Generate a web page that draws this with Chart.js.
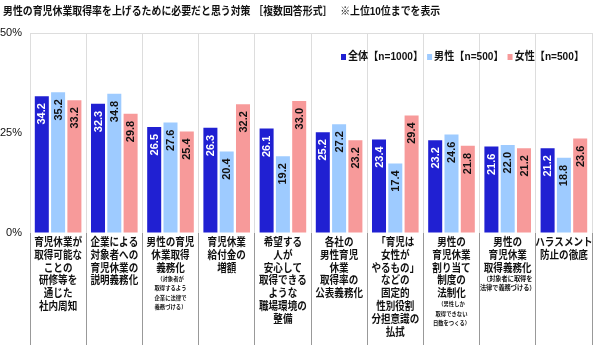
<!DOCTYPE html>
<html>
<head>
<meta charset="utf-8">
<script src="https://cdn.jsdelivr.net/npm/chart.js@4"></script>
<style>
  html, body { margin: 0; padding: 0; background: #fff; }
  #wrap { width: 600px; height: 345px; position: relative; }
</style>
</head>
<body>
<div id="wrap"><canvas id="chart"></canvas></div>
<script>
// 項目（本文の行）と、小さな注記の行
const categories = [
  ['育児休業が', '取得可能な', 'ことの', '研修等を', '通じた', '社内周知'],
  ['企業による', '対象者への', '育児休業の', '説明義務化'],
  ['男性の育児', '休業取得', '義務化'],
  ['育児休業', '給付金の', '増額'],
  ['希望する', '人が', '安心して', '取得できる', 'ような', '職場環境の', '整備'],
  ['各社の', '男性育児', '休業', '取得率の', '公表義務化'],
  ['「育児は', '女性が', 'やるもの」', 'などの', '固定的', '性別役割', '分担意識の', '払拭'],
  ['男性の', '育児休業', '割り当て', '制度の', '法制化'],
  ['男性の', '育児休業', '取得義務化'],
  ['ハラスメント', '防止の徹底']
];
const notes = [
  [],
  [],
  ['（対象者が', '取得するよう', '企業に法律で', '義務づける）'],
  [],
  [],
  [],
  [],
  ['（男性しか', '取得できない', '日数をつくる）'],
  ['（対象者に取得を', '法律で義務づける）'],
  []
];

const titleText = '男性の育児休業取得率を上げるために必要だと思う対策 ［複数回答形式］　 ※上位10位までを表示';
const seriesNames = ['全体【n=1000】', '男性【n=500】', '女性【n=500】'];
const allValues   = [34.2, 32.3, 26.5, 26.3, 26.1, 25.2, 23.4, 23.2, 21.6, 21.2];
const maleValues  = [35.2, 34.8, 27.6, 20.4, 19.2, 27.2, 17.4, 24.6, 22.0, 18.8];
const femaleValues = [33.2, 29.8, 25.4, 32.2, 33.0, 23.2, 29.4, 21.8, 21.2, 23.6];
const yTicks = [0, 25, 50];

const colors = ['#2020d2', '#9ecbff', '#f79a9a'];
const labelColors = ['#ffffff', '#111111', '#111111'];
const FONT = '"Liberation Sans", "Noto Sans CJK JP", sans-serif';

// 横に少し詰めて文字を書く（元図の細い和文フォントに合わせる）
function squeezedText(c, text, x, y, sx) {
  c.save();
  c.translate(x, y);
  c.scale(sx, 1);
  c.fillText(text, 0, 0);
  c.restore();
}

// タイトルと凡例
const header = {
  id: 'header',
  afterDraw(chart) {
    const c = chart.ctx;
    c.save();
    c.fillStyle = '#111';
    c.textBaseline = 'middle';
    c.textAlign = 'left';
    c.font = 'bold 11px ' + FONT;
    squeezedText(c, titleText, 3, 12, 0.9);

    // 凡例（グラフ内の右上）
    const sx = 0.92;
    let x = 341;
    const y = 57;
    seriesNames.forEach((name, i) => {
      c.fillStyle = colors[i];
      c.fillRect(x, y - 3, 5, 6);
      c.fillStyle = '#111';
      squeezedText(c, name, x + 7, y, sx);
      x += 7 + c.measureText(name).width * sx + 4;
    });
    c.restore();
  }
};

// 棒の中に回転した数値
const barLabels = {
  id: 'barLabels',
  afterDatasetsDraw(chart) {
    const c = chart.ctx;
    c.save();
    c.font = 'bold 11px ' + FONT;
    c.textAlign = 'right';
    c.textBaseline = 'middle';
    chart.data.datasets.forEach((ds, i) => {
      chart.getDatasetMeta(i).data.forEach((bar, j) => {
        c.save();
        c.translate(bar.x, bar.y + 7);
        c.rotate(-Math.PI / 2);
        c.fillStyle = labelColors[i];
        c.fillText(ds.data[j].toFixed(1), 0, 0.5);
        c.restore();
      });
    });
    c.restore();
  }
};

// 項目ラベル（複数行＋小さい注記）
const catLabels = {
  id: 'catLabels',
  afterDraw(chart) {
    const c = chart.ctx;
    const x = chart.scales.x;
    const top = chart.chartArea.bottom;
    c.save();
    c.fillStyle = '#111';
    c.textAlign = 'center';
    c.textBaseline = 'middle';
    categories.forEach((lines, i) => {
      const cx = x.getPixelForValue(i);
      let y = top + 10;
      c.font = 'bold 11px ' + FONT;
      lines.forEach(t => { squeezedText(c, t, cx, y, 0.87); y += 12.8; });
      y -= 2.3;
      c.font = 'bold ' + (i === 8 ? 6.5 : 5.6) + 'px ' + FONT;
      notes[i].forEach(t => { squeezedText(c, t, cx, y, 0.95); y += 9.5; });
    });
    c.restore();
  }
};

new Chart(document.getElementById('chart'), {
  type: 'bar',
  data: {
    labels: categories.map(l => l.join('')),
    datasets: [allValues, maleValues, femaleValues].map((d, i) => ({
      label: seriesNames[i],
      data: d,
      backgroundColor: colors[i],
      borderWidth: 0,
      categoryPercentage: 0.87,
      barPercentage: 0.86
    }))
  },
  options: {
    responsive: true,
    maintainAspectRatio: false,
    animation: false,
    layout: { padding: { left: 0, right: 8, top: 33, bottom: 0 } },
    plugins: {
      title: { display: false },
      legend: { display: false },
      tooltip: { enabled: false }
    },
    scales: {
      x: {
        offset: true,
        grid: {
          offset: true,
          color: '#dddddd',
          tickColor: '#999999',
          tickLength: 112,
          drawTicks: true
        },
        border: { display: false },
        ticks: { display: false }
      },
      y: {
        min: 0,
        max: 50,
        afterBuildTicks: s => { s.ticks = yTicks.map(v => ({ value: v })); },
        afterFit: s => { s.width = 30; },
        grid: {
          color: ctx => ctx.tick && ctx.tick.value === 50 ? '#dddddd' : 'rgba(0,0,0,0)',
          drawTicks: false
        },
        border: { display: false },
        ticks: {
          padding: 8,
          color: '#111',
          font: { family: FONT, size: 11 },
          callback: v => v + '%'
        }
      }
    }
  },
  plugins: [barLabels, catLabels, header]
});
</script>
</body>
</html>
